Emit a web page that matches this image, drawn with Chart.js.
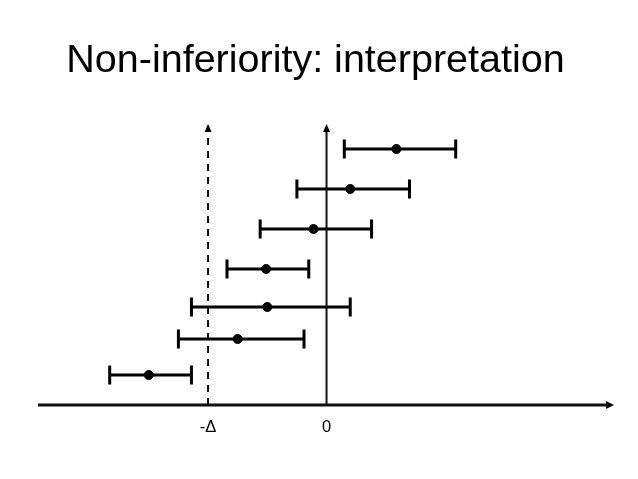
<!DOCTYPE html>
<html>
<head>
<meta charset="utf-8">
<script src="https://cdn.jsdelivr.net/npm/chart.js@4"></script>
<style>
html,body{margin:0;padding:0;background:#fff;}
#wrap{width:638px;height:479px;position:relative;}
</style>
</head>
<body>
<div id="wrap"><canvas id="c" width="638" height="479"></canvas></div>
<script>
// Data (x in units of the margin Δ; y = row position)
const titleText = "Non-inferiority: interpretation";
const rows      = [6.4, 5.4, 4.4, 3.4, 2.45, 1.65, 0.75];
const estimates = [0.59, 0.20, -0.11, -0.51, -0.50, -0.75, -1.50];
const lowers    = [0.15, -0.25, -0.56, -0.84, -1.14, -1.25, -1.83];
const uppers    = [1.09, 0.70, 0.38, -0.15, 0.20, -0.19, -1.14];
const tickValues = [-1, 0];
const tickLabels = ["-\u0394", "0"];

const FONT = "'Liberation Sans', Arial, sans-serif";

const drawPlugin = {
  id: 'niDraw',
  beforeDatasetsDraw(chart) {
    const {ctx, chartArea, scales:{x, y}} = chart;
    ctx.save();
    ctx.fillStyle = '#000';
    // title
    ctx.font = "39.5px " + FONT;
    ctx.textAlign = 'center';
    ctx.textBaseline = 'alphabetic';
    ctx.fillText(titleText, 315.5, 72);

    const x0 = x.getPixelForValue(0);
    const xm = x.getPixelForValue(-1);
    const yb = chartArea.bottom;
    const yt = chartArea.top;
    // horizontal axis
    ctx.strokeStyle = '#111';
    ctx.lineWidth = 3;
    ctx.beginPath();
    ctx.moveTo(chartArea.left, yb);
    ctx.lineTo(chartArea.right - 6, yb);
    ctx.stroke();
    ctx.beginPath();
    ctx.moveTo(chartArea.right, yb);
    ctx.lineTo(chartArea.right - 8, yb - 4);
    ctx.lineTo(chartArea.right - 8, yb + 4);
    ctx.closePath(); ctx.fill();
    // zero line
    ctx.lineWidth = 2;
    ctx.beginPath();
    ctx.moveTo(x0, yb);
    ctx.lineTo(x0, yt + 6);
    ctx.stroke();
    ctx.beginPath();
    ctx.moveTo(x0, yt);
    ctx.lineTo(x0 - 3.5, yt + 8);
    ctx.lineTo(x0 + 3.5, yt + 8);
    ctx.closePath(); ctx.fill();
    // dashed margin line
    ctx.setLineDash([7, 6]);
    ctx.beginPath();
    ctx.moveTo(xm, yb);
    ctx.lineTo(xm, yt + 8);
    ctx.stroke();
    ctx.setLineDash([]);
    ctx.beginPath();
    ctx.moveTo(xm, yt);
    ctx.lineTo(xm - 3.5, yt + 8);
    ctx.lineTo(xm + 3.5, yt + 8);
    ctx.closePath(); ctx.fill();
    // tick labels
    ctx.font = "16.5px " + FONT;
    ctx.textBaseline = 'middle';
    tickValues.forEach((v, i) => {
      ctx.fillText(tickLabels[i], x.getPixelForValue(v), yb + 22);
    });
    // error bars
    ctx.strokeStyle = '#000';
    ctx.lineWidth = 3;
    rows.forEach((r, i) => {
      const py = y.getPixelForValue(r);
      const lo = x.getPixelForValue(lowers[i]);
      const hi = x.getPixelForValue(uppers[i]);
      ctx.beginPath();
      ctx.moveTo(lo, py); ctx.lineTo(hi, py);
      ctx.moveTo(lo, py - 9.5); ctx.lineTo(lo, py + 9.5);
      ctx.moveTo(hi, py - 9.5); ctx.lineTo(hi, py + 9.5);
      ctx.stroke();
    });
    ctx.restore();
  }
};

new Chart(document.getElementById('c'), {
  type: 'scatter',
  data: {
    datasets: [{
      data: rows.map((r, i) => ({x: estimates[i], y: r})),
      backgroundColor: '#000',
      borderColor: '#000',
      pointRadius: 4.5,
      pointHoverRadius: 4.5
    }]
  },
  options: {
    responsive: false,
    animation: false,
    events: [],
    layout: {padding: {left: 38, right: 24, top: 124, bottom: 74}},
    plugins: {legend: {display: false}, tooltip: {enabled: false}, title: {display: false}},
    scales: {
      x: {type: 'linear', min: -2.435, max: 2.426, display: false},
      y: {type: 'linear', min: 0, max: 7.025, display: false}
    }
  },
  plugins: [drawPlugin]
});
</script>
</body>
</html>
